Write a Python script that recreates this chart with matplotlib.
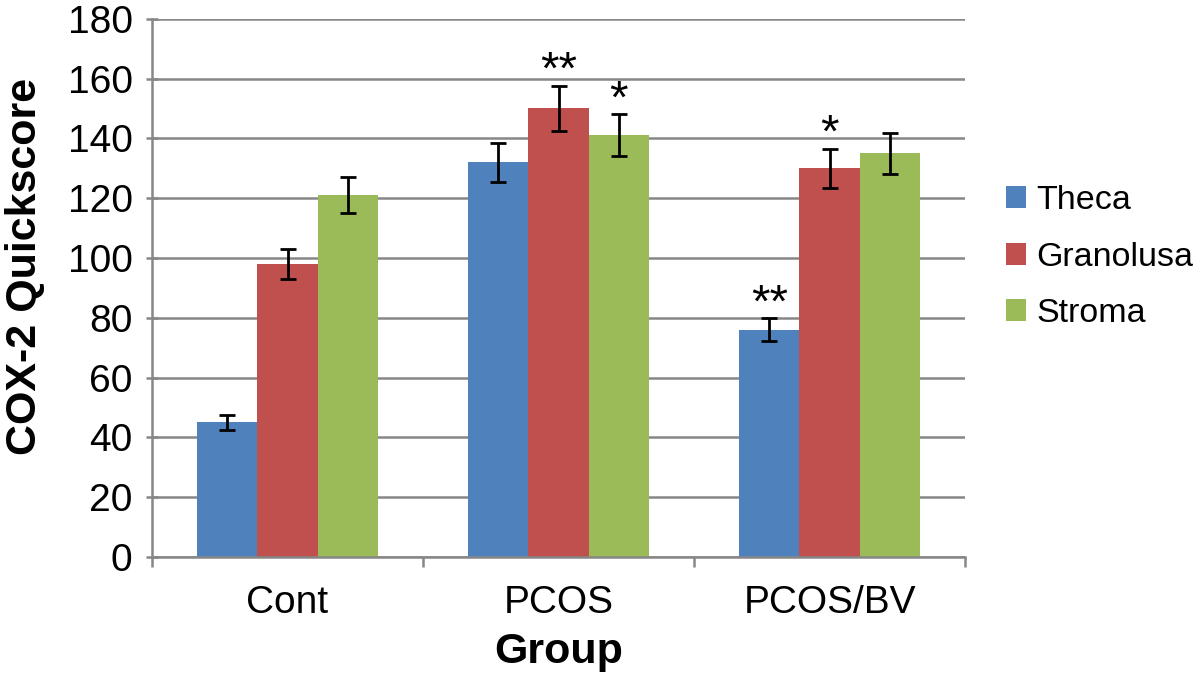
import matplotlib.pyplot as plt
import numpy as np

plt.rcParams['font.family'] = ['Liberation Sans', 'DejaVu Sans']

groups = ['Cont', 'PCOS', 'PCOS/BV']
series = ['Theca', 'Granolusa', 'Stroma']
values = [[45, 132, 76],
          [98, 150, 130],
          [121, 141, 135]]
errors = [[2.5, 6.5, 3.8],
          [5, 7.5, 6.5],
          [6, 7, 6.8]]
stars = [['', '', '**'],
         ['', '**', '*'],
         ['', '*', '']]
colors = ['#4F81BD', '#C0504D', '#9BBB59']

fig = plt.figure(figsize=(12, 6.77), dpi=100)
ax = fig.add_axes([0.1267, 0.1773, 0.6775, 0.795])

x = np.arange(len(groups))
w = 1 / 4.5
for i in range(3):
    pos = x + (i - 1) * w
    ax.bar(pos, values[i], w, color=colors[i], label=series[i], zorder=2)
    ax.errorbar(pos, values[i], yerr=errors[i], fmt='none', ecolor='black',
                elinewidth=2, capsize=6, capthick=2, zorder=3)
    for j in range(3):
        if stars[i][j]:
            ax.annotate(stars[i][j], (pos[j], values[i][j] + errors[i][j]),
                        xytext=(0, 10), textcoords='offset points',
                        ha='center', va='center', fontsize=34, zorder=4)

ax.set_ylim(0, 180)
ax.set_xlim(-0.5, 2.5)
ax.set_yticks(np.arange(0, 181, 20))
ax.yaxis.grid(True, color='#878787', linewidth=1.8, zorder=0)
ax.set_axisbelow(True)

ax.set_xticks([-0.5, 0.5, 1.5, 2.5])
ax.set_xticklabels([])
ax.set_xticks(x, minor=True)
ax.set_xticklabels(groups, minor=True)
ax.tick_params(axis='x', which='major', direction='out', length=7, width=1.8, color='#878787')
ax.tick_params(axis='x', which='minor', length=0, pad=20, labelsize=28)
ax.tick_params(axis='y', direction='inout', length=8, width=1.8, color='#878787', labelsize=28, pad=10)

for s in ['top', 'right']:
    ax.spines[s].set_visible(False)
for s in ['left', 'bottom']:
    ax.spines[s].set_color('#878787')
    ax.spines[s].set_linewidth(1.8)

ax.set_xlabel('Group', fontsize=31, fontweight='bold', labelpad=8)
ax.set_ylabel('COX-2 Quickscore', fontsize=31, fontweight='bold')
ax.yaxis.set_label_coords(-0.132, 0.54)

ax.legend(loc='center left', bbox_to_anchor=(0.827, 0.62), bbox_transform=fig.transFigure,
          frameon=False, fontsize=24.5, handlelength=0.6, handleheight=0.6,
          handletextpad=0.3, labelspacing=0.75, borderaxespad=0)

fig.savefig('out.png', dpi=100)
